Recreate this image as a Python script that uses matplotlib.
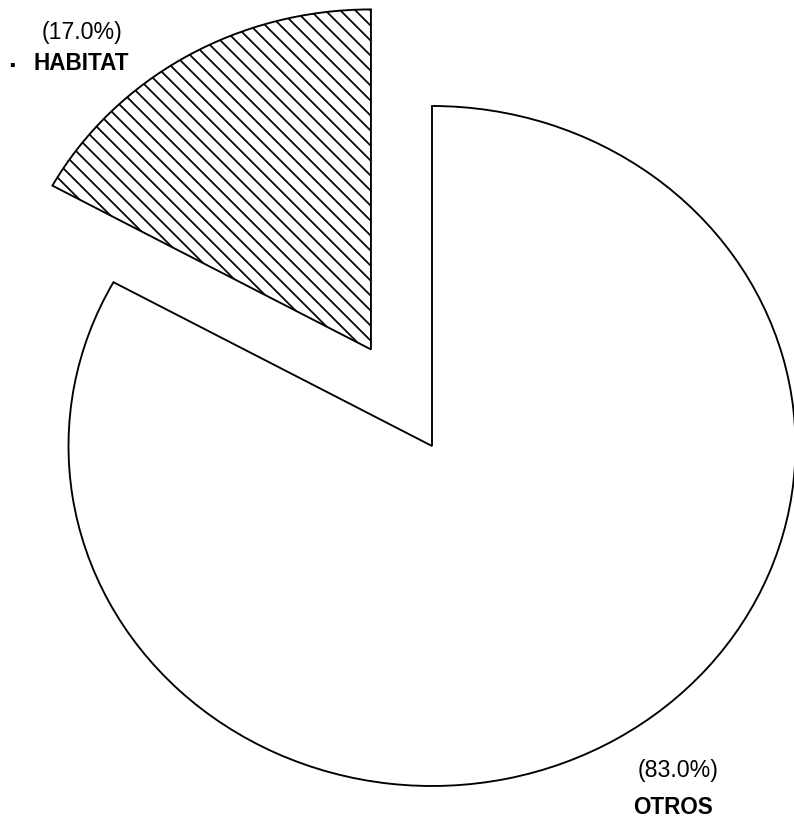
import matplotlib
matplotlib.use('Agg')
import matplotlib.pyplot as plt

labels = ['HABITAT', 'OTROS']
values = [17.0, 83.0]
explode = [0.33, 0.0]
hatches = ['\\\\', '']

plt.rcParams['font.family'] = ['Liberation Sans', 'DejaVu Sans']
plt.rcParams['hatch.linewidth'] = 1.4

DPI = 90
fig = plt.figure(figsize=(794 / DPI, 824 / DPI), dpi=DPI)
ax = fig.add_axes([0, 0, 1, 1])

wedges, _ = ax.pie(values, explode=explode, startangle=90, counterclock=True,
                   wedgeprops=dict(facecolor='white', edgecolor='black', linewidth=1.5))
for w, h in zip(wedges, hatches):
    w.set_hatch(h)

# pie is a bit wider than tall in the reference
ax.set_aspect('auto')
ax.set_xlim(-432 / 363.5, 362 / 363.5)
ax.set_ylim(-378 / 340, 446 / 340)
ax.axis('off')

def fx(px):
    return px / 794

def fy(py):
    return 1 - py / 824

fig.text(fx(82), fy(33), '(%.1f%%)' % values[0], ha='center', va='center', fontsize=18.5)
fig.text(fx(81), fy(64), labels[0], ha='center', va='center', fontsize=18, fontweight='bold')
fig.text(fx(12), fy(60), '.', ha='center', va='center', fontsize=22, fontweight='bold')
fig.text(fx(678), fy(770), '(%.1f%%)' % values[1], ha='center', va='center', fontsize=18.5)
fig.text(fx(673), fy(808), labels[1], ha='center', va='center', fontsize=18, fontweight='bold')

fig.savefig('out.png', dpi=DPI)
